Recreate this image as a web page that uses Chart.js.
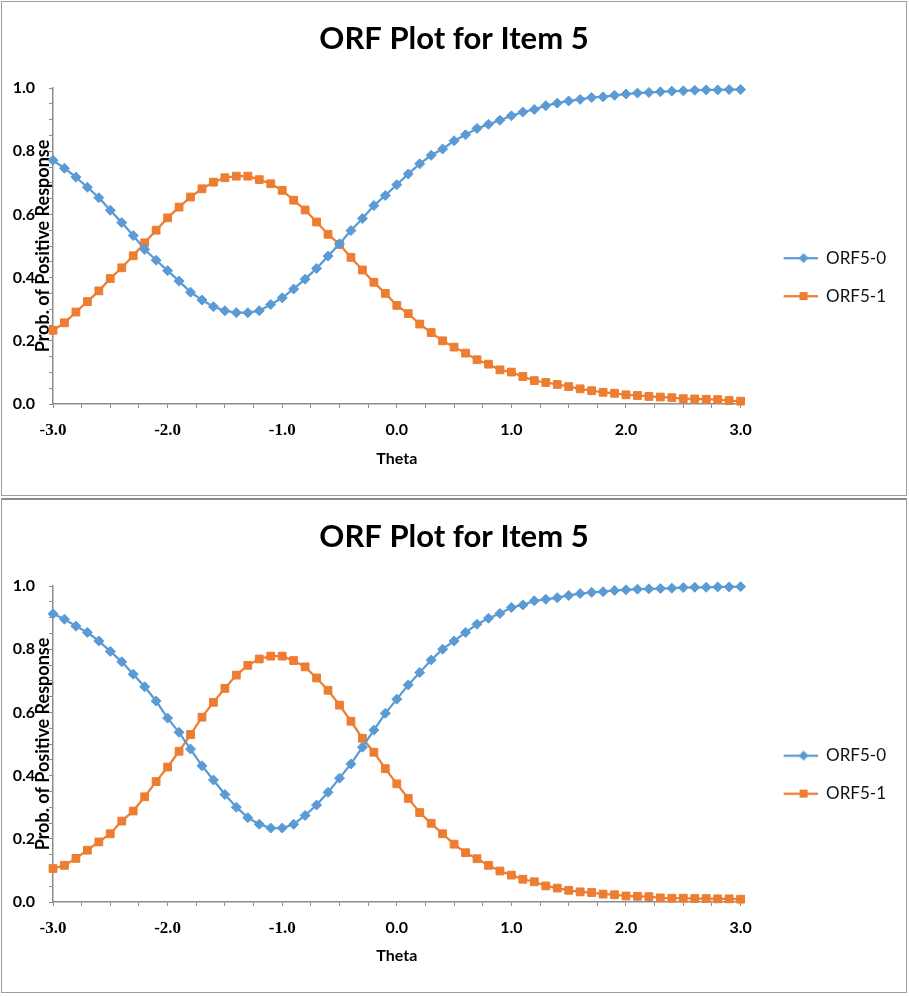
<!DOCTYPE html>
<html>
<head>
<meta charset="utf-8">
<title>ORF Plot for Item 5</title>
<script src="https://cdn.jsdelivr.net/npm/chart.js@4.4.1/dist/chart.umd.min.js"></script>
<style>
  body { margin: 0; background: #fff; }
  .panel { position: absolute; left: 1px; width: 904px; border: 1px solid #9d9d9d; background: #fff; }
  #panel1 { top: 1px; height: 493px; }
  #panel2 { top: 498px; height: 492px; border-top: 2px solid #8c8c8c; }
</style>
</head>
<body>
<div class="panel" id="panel1"><canvas id="chart1"></canvas></div>
<div class="panel" id="panel2"><canvas id="chart2"></canvas></div>
<script>
var theta = [-3.0, -2.9, -2.8, -2.7, -2.6, -2.5, -2.4, -2.3, -2.2, -2.1,
             -2.0, -1.9, -1.8, -1.7, -1.6, -1.5, -1.4, -1.3, -1.2, -1.1,
             -1.0, -0.9, -0.8, -0.7, -0.6, -0.5, -0.4, -0.3, -0.2, -0.1,
              0.0,  0.1,  0.2,  0.3,  0.4,  0.5,  0.6,  0.7,  0.8,  0.9,
              1.0,  1.1,  1.2,  1.3,  1.4,  1.5,  1.6,  1.7,  1.8,  1.9,
              2.0,  2.1,  2.2,  2.3,  2.4,  2.5,  2.6,  2.7,  2.8,  2.9, 3.0];

var seriesNames = ["ORF5-0", "ORF5-1"];

// top chart
var chart1Orf0 = [0.771, 0.746, 0.718, 0.686, 0.653, 0.613, 0.574, 0.533, 0.489, 0.455,
                  0.422, 0.389, 0.354, 0.329, 0.308, 0.295, 0.289, 0.289, 0.295, 0.315,
                  0.336, 0.364, 0.395, 0.429, 0.468, 0.507, 0.549, 0.587, 0.628, 0.660,
                  0.694, 0.728, 0.760, 0.787, 0.807, 0.833, 0.852, 0.872, 0.885, 0.898,
                  0.912, 0.924, 0.932, 0.944, 0.952, 0.959, 0.964, 0.970, 0.972, 0.977,
                  0.981, 0.984, 0.986, 0.988, 0.990, 0.991, 0.993, 0.994, 0.994, 0.995, 0.995];
var chart1Orf1 = [0.233, 0.257, 0.291, 0.324, 0.358, 0.397, 0.431, 0.469, 0.510, 0.550,
                  0.589, 0.623, 0.655, 0.681, 0.702, 0.716, 0.721, 0.721, 0.710, 0.697,
                  0.676, 0.645, 0.614, 0.576, 0.537, 0.505, 0.464, 0.424, 0.385, 0.350,
                  0.312, 0.286, 0.253, 0.226, 0.200, 0.180, 0.161, 0.140, 0.126, 0.108,
                  0.101, 0.087, 0.074, 0.068, 0.062, 0.055, 0.048, 0.042, 0.037, 0.034,
                  0.029, 0.027, 0.024, 0.022, 0.020, 0.017, 0.016, 0.015, 0.014, 0.011, 0.009];

// bottom chart
var chart2Orf0 = [0.912, 0.895, 0.873, 0.853, 0.826, 0.793, 0.760, 0.721, 0.681, 0.636,
                  0.582, 0.537, 0.484, 0.431, 0.386, 0.340, 0.300, 0.267, 0.246, 0.234,
                  0.234, 0.246, 0.274, 0.307, 0.347, 0.392, 0.437, 0.490, 0.544, 0.597,
                  0.642, 0.687, 0.726, 0.766, 0.800, 0.826, 0.853, 0.879, 0.898, 0.913,
                  0.932, 0.940, 0.953, 0.958, 0.963, 0.970, 0.976, 0.980, 0.982, 0.986,
                  0.988, 0.990, 0.991, 0.992, 0.993, 0.995, 0.996, 0.996, 0.997, 0.997, 0.998];
var chart2Orf1 = [0.106, 0.116, 0.138, 0.164, 0.190, 0.216, 0.256, 0.288, 0.333, 0.381,
                  0.427, 0.477, 0.530, 0.585, 0.632, 0.676, 0.718, 0.749, 0.769, 0.778,
                  0.778, 0.764, 0.744, 0.709, 0.670, 0.623, 0.572, 0.518, 0.474, 0.422,
                  0.374, 0.328, 0.283, 0.249, 0.216, 0.183, 0.156, 0.137, 0.116, 0.098,
                  0.085, 0.072, 0.064, 0.051, 0.044, 0.037, 0.032, 0.030, 0.025, 0.023,
                  0.019, 0.018, 0.017, 0.013, 0.012, 0.012, 0.011, 0.011, 0.010, 0.010, 0.009];

var BLUE = "#5b9bd5";
var ORANGE = "#ed7d31";
var AXIS = "#8c8c8c";

// excel-like legend sample: short line with the marker in the middle
function legendMark(color, shape) {
  var c = document.createElement("canvas");
  c.width = 56;
  c.height = 12;
  var g = c.getContext("2d");
  g.strokeStyle = color;
  g.lineWidth = 2.25;
  g.beginPath();
  g.moveTo(22, 6);
  g.lineTo(56, 6);
  g.stroke();
  g.fillStyle = color;
  if (shape === "diamond") {
    g.beginPath();
    g.moveTo(42, 1);
    g.lineTo(47, 6);
    g.lineTo(42, 11);
    g.lineTo(37, 6);
    g.closePath();
    g.fill();
  } else {
    g.fillRect(38, 2, 8, 8);
  }
  return c;
}
var legendMarks = [legendMark(BLUE, "diamond"), legendMark(ORANGE, "square")];

function points(values) {
  var out = [];
  for (var i = 0; i < theta.length; i++) {
    out.push({ x: theta[i], y: values[i] });
  }
  return out;
}

function makeChart(id, orf0, orf1) {
  var ctx = document.getElementById(id);

  var data = {
    datasets: [
      {
        label: seriesNames[0],
        data: points(orf0),
        borderColor: BLUE,
        backgroundColor: BLUE,
        borderWidth: 2.25,
        pointStyle: "rectRot",
        pointRadius: 5,
        pointHoverRadius: 5,
        pointBorderWidth: 1,
        tension: 0,
        clip: false
      },
      {
        label: seriesNames[1],
        data: points(orf1),
        borderColor: ORANGE,
        backgroundColor: ORANGE,
        borderWidth: 2.25,
        pointStyle: "rect",
        pointRadius: 5.5,
        pointHoverRadius: 5.5,
        pointBorderWidth: 1,
        tension: 0,
        clip: false
      }
    ]
  };

  var options = {
    responsive: true,
    maintainAspectRatio: false,
    animation: false,
    layout: { padding: { left: 10, top: 0, right: 10, bottom: 0 } },
    plugins: {
      title: {
        display: true,
        text: "ORF Plot for Item 5",
        color: "#000",
        font: { family: "Lato", size: 31, weight: "bold" },
        padding: { top: 18, bottom: 30.8 }
      },
      legend: {
        display: true,
        position: "right",
        align: "center",
        title: { display: true, text: "", font: { size: 16 }, padding: { top: 19, bottom: 19 } },
        labels: {
          usePointStyle: true,
          pointStyleWidth: 56,
          padding: 21,
          color: "#111",
          font: { family: "Lato", size: 17 },
          generateLabels: function(chart) {
            var items = Chart.defaults.plugins.legend.labels.generateLabels(chart);
            items.forEach(function(it, i) { it.pointStyle = legendMarks[i]; });
            return items;
          }
        }
      },
      tooltip: { enabled: false }
    },
    scales: {
      x: {
        type: "linear",
        min: -3,
        max: 3,
        afterFit: function(s) { s.height = s.chart.height - 402; },
        grid: { drawOnChartArea: false, drawTicks: true, tickLength: 4, color: AXIS },
        border: { color: AXIS, width: 1.5 },
        ticks: {
          stepSize: 0.25,
          autoSkip: false,
          maxRotation: 0,
          padding: 12,
          color: "#000",
          font: function(c) {
            var v = c.tick ? c.tick.value : 0;
            if (v < 0) return { family: "Liberation Serif", size: 17, weight: "bold" };
            return { family: "Lato", size: 16, weight: "bold" };
          },
          callback: function(v) {
            return Math.abs(v - Math.round(v)) < 1e-6 ? Number(v).toFixed(1) : "";
          }
        },
        title: {
          display: true,
          text: "Theta",
          color: "#000",
          font: { family: "Lato", size: 16, weight: "bold" },
          padding: { top: 0, bottom: 27 }
        }
      },
      y: {
        type: "linear",
        min: 0,
        max: 1,
        afterFit: function(s) { s.width = 41; },
        grid: { drawOnChartArea: false, drawTicks: true, tickLength: 4, color: AXIS },
        border: { color: AXIS, width: 1.5 },
        ticks: {
          stepSize: 0.05,
          autoSkip: false,
          padding: 14,
          color: "#000",
          font: { family: "Lato", size: 16, weight: "bold" },
          callback: function(v) {
            var r = Math.round(v * 5);
            return Math.abs(v * 5 - r) < 1e-6 ? (r / 5).toFixed(1) : "";
          }
        },
        title: {
          display: true,
          text: "Prob. of Positive Response",
          color: "#000",
          font: { family: "Lato", size: 18, weight: "bold" },
          padding: { top: 20, bottom: 0 }
        }
      }
    }
  };

  return new Chart(ctx, { type: "line", data: data, options: options });
}

makeChart("chart1", chart1Orf0, chart1Orf1);
makeChart("chart2", chart2Orf0, chart2Orf1);
</script>
</body>
</html>
